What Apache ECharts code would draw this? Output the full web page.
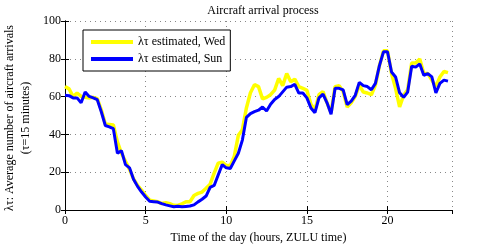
<!DOCTYPE html>
<html>
<head>
<meta charset="utf-8">
<script src="https://cdn.jsdelivr.net/npm/echarts@6/dist/echarts.min.js"></script>
<style>html,body{margin:0;padding:0;background:#fff;}#c{width:500px;height:249px;}</style>
</head>
<body>
<div id="c"></div>
<script>
// 15-minute samples, hours of the day
var step = 0.25;
var wed = [65.3,64.1,60.0,61.9,60.1,59.6,59.3,59.6,58.9,53,45.5,45.3,45,36,30,25.8,21.5,16.5,13,10.5,7.7,5.2,4.8,4.4,3.4,3.9,3.3,2.5,2.4,3.3,4.3,4.4,7.7,8.8,9.5,11.5,13.7,19.5,24.8,25.3,23.5,23.5,28.5,39.5,42.5,54,62,66.3,65.3,58.8,59.6,61,63.4,69.6,65.8,72.2,67.9,69.2,65.3,64.4,63.3,56,53,61,62.7,56.7,51.5,65.3,65.8,62.7,54.5,56.7,60.1,66.1,62.4,61.9,61,66.1,76.4,84.2,84.2,72.2,64.4,54.6,60.7,63.6,77.8,77.8,79.9,72.2,72.2,68.7,65.3,70.4,73.3,72.7];
var sun = [60.7,60.5,59.3,59.3,56.7,62.4,60.1,59.3,58.4,52,44.7,44,43,30,31.4,24,22.3,16.3,12.5,9.5,6.9,4.6,4.4,4.2,3.4,2.7,2.2,1.7,2.0,1.7,1.9,2.1,2.7,4.3,5.7,7.4,12,13,18.5,24,22.3,22,26,30,37,49,51,52,52.8,54.5,52.4,56,58.5,60,62.5,65,65.3,66.5,61.9,61.9,59.3,54,51.5,59.3,61.3,56.7,50.7,64.4,64.4,63.6,55.8,57.6,60.7,67.5,65.8,65.3,63.6,67,76.4,83.7,83.7,73,70.4,62,59.6,62.4,76.1,75.6,77.3,71.3,72.2,70.4,61.9,67,68.7,68.2];
var xTicks = [0,5,10,15,20];
var yTicks = [0,20,40,60,80,100];

function pairs(arr){ return arr.map(function(v,i){ return [i*step, v]; }); }

var font = 'Liberation Serif';
var chart = echarts.init(document.getElementById('c'), null, {renderer:'canvas'});
var gridLine = {show:true, lineStyle:{color:'#888', width:1, type:[1,4]}};
chart.setOption({
  animation:false,
  backgroundColor:'#fff',
  title:{text:'Aircraft arrival process', left:258, top:0, textAlign:'center',
    textStyle:{fontFamily:font, fontSize:12, fontWeight:'normal', color:'#000'}},
  grid:{left:65, right:48, top:21, bottom:34},
  legend:{
    left:83, top:30, orient:'vertical',
    backgroundColor:'#fff', borderColor:'#000', borderWidth:1,
    padding:[6,5,6,8], itemGap:5, itemWidth:42, itemHeight:4, icon:'rect',
    textStyle:{fontFamily:font, fontSize:12, color:'#000'},
    data:['λτ estimated, Wed','λτ estimated, Sun']
  },
  xAxis:[{
    type:'value', min:0, max:24, interval:5,
    name:'Time of the day (hours, ZULU time)', nameLocation:'middle', nameGap:22,
    nameTextStyle:{fontFamily:font, fontSize:12, color:'#000'},
    axisLine:{show:true, lineStyle:{color:'#000', width:1}},
    axisTick:{show:true, inside:true, length:4, lineStyle:{color:'#000'}},
    axisLabel:{fontFamily:font, fontSize:12, color:'#000', margin:5, showMaxLabel:false,
      formatter:function(v){ return xTicks.indexOf(v) >= 0 ? String(v) : ''; }},
    splitLine:gridLine
  },{
    type:'value', min:0, max:24, interval:5, position:'top',
    axisLine:{show:true, lineStyle:{color:'#000', width:1}},
    axisTick:{show:true, inside:true, length:4, lineStyle:{color:'#000'}},
    axisLabel:{show:false}, splitLine:{show:false}
  }],
  yAxis:[{
    type:'value', min:0, max:100, interval:20,
    axisLine:{show:true, lineStyle:{color:'#000', width:1}},
    axisTick:{show:true, inside:true, length:4, lineStyle:{color:'#000'}},
    axisLabel:{fontFamily:font, fontSize:12, color:'#000', margin:4,
      formatter:function(v){ return yTicks.indexOf(v) >= 0 ? String(v) : ''; }},
    splitLine:gridLine
  },{
    type:'value', min:0, max:100, interval:20, position:'right',
    axisLine:{show:true, lineStyle:{color:'#000', width:1}},
    axisTick:{show:true, inside:true, length:4, lineStyle:{color:'#000'}},
    axisLabel:{show:false}, splitLine:{show:false}
  }],
  graphic:[{
    type:'text', x:10, y:118, rotation:Math.PI/2,
    style:{text:'λτ: Average number of aircraft arrivals', fill:'#000',
      font:'12px "Liberation Serif"', align:'center', verticalAlign:'middle'}
  },{
    type:'text', x:26, y:118, rotation:Math.PI/2,
    style:{text:'(τ=15 minutes)', fill:'#000',
      font:'12px "Liberation Serif"', align:'center', verticalAlign:'middle'}
  }],
  series:[{
    name:'λτ estimated, Wed', type:'line', data:pairs(wed), symbol:'none',
    lineStyle:{color:'#ffff00', width:3.5}, itemStyle:{color:'#ffff00'}
  },{
    name:'λτ estimated, Sun', type:'line', data:pairs(sun), symbol:'none',
    lineStyle:{color:'#0000ff', width:3}, itemStyle:{color:'#0000ff'}
  }]
});
</script>
</body>
</html>
